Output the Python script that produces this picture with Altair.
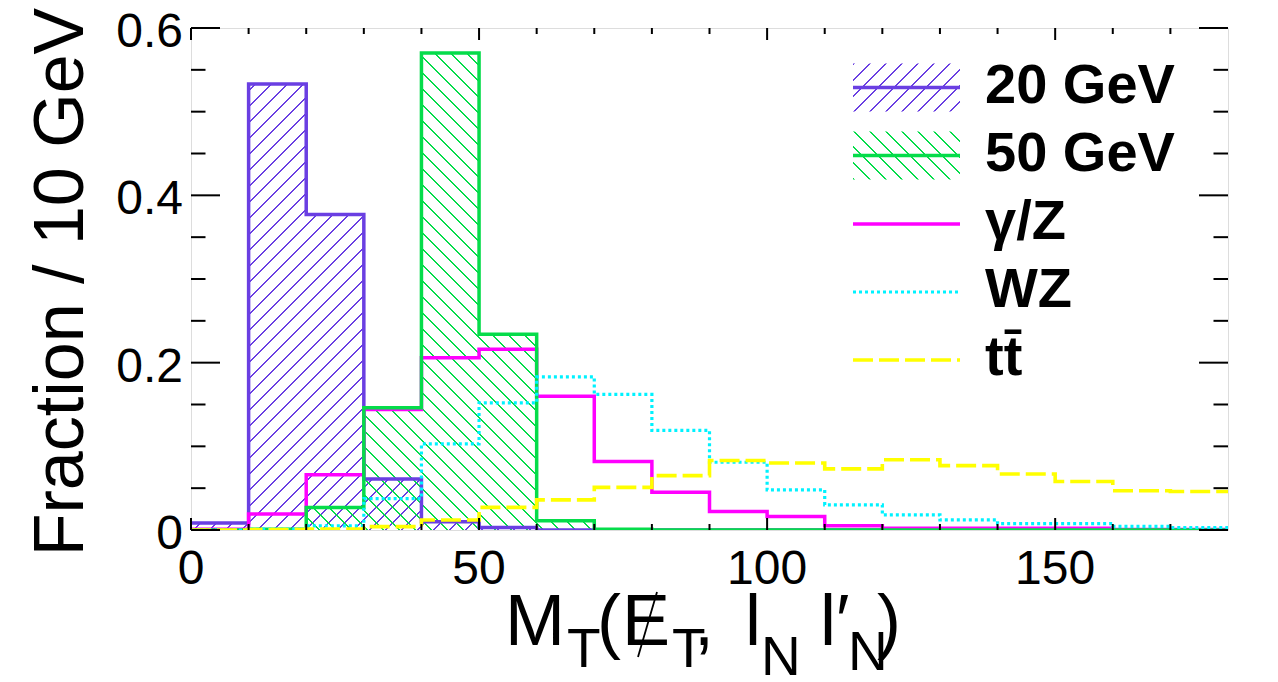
import math
import altair as alt
import pandas as pd

# ---------------- data ----------------
bin_edges = [0, 10, 20, 30, 40, 50, 60, 70, 80, 90, 100, 110, 120, 130, 140, 150, 160, 170, 180]
sig20 = [0.0085, 0.533, 0.377, 0.061, 0.010, 0.003, 0, 0, 0, 0, 0, 0, 0, 0, 0, 0, 0, 0]
sig50 = [0, 0.001, 0.027, 0.146, 0.570, 0.234, 0.011, 0.001, 0, 0, 0, 0, 0, 0, 0, 0, 0, 0]
gamz = [0.001, 0.019, 0.066, 0.144, 0.206, 0.216, 0.160, 0.082, 0.045, 0.022, 0.016, 0.005,
        0.002, 0.002, 0.002, 0.002, 0.0005, 0.0005]
wz = [0, 0.001, 0.005, 0.0375, 0.103, 0.152, 0.183, 0.162, 0.119, 0.081, 0.048, 0.030,
      0.018, 0.012, 0.0076, 0.0076, 0.0044, 0.003]
ttbar = [0, 0.0005, 0.001, 0.004, 0.012, 0.027, 0.036, 0.051, 0.065, 0.083, 0.080, 0.073,
         0.084, 0.077, 0.067, 0.058, 0.047, 0.046]

legend_names = ["20 GeV", "50 GeV", "\u03b3/Z", "WZ", "tt\u0304"]
x_tick_values = [0, 50, 100, 150]
x_tick_text = ["0", "50", "100", "150"]
x_minor_ticks = [10, 20, 30, 40, 60, 70, 80, 90, 110, 120, 130, 140, 160, 170]
y_tick_values = [0, 0.2, 0.4, 0.6]
y_tick_text = ["0", "0.2", "0.4", "0.6"]
y_minor_ticks = [0.05, 0.1, 0.15, 0.25, 0.3, 0.35, 0.45, 0.5, 0.55]
y_title = "Fraction / 10 GeV"

# ---------------- styles / layout ----------------
W, H = 1037, 502
XMAX, YMAX = 180, 0.6
PXY = H / YMAX
FONT = "Liberation Sans"
PURPLE = "#6a3fe2"
GREEN = "#05dc4a"
MAGENTA = "#ff00ff"
CYAN = "#00f2ff"
YELLOW = "#ffff00"

xs = alt.Scale(domain=[0, XMAX], nice=False, zero=False)
ys = alt.Scale(domain=[0, YMAX], nice=False, zero=True)


def hatch(color, w, h, kind, period=11.3, lw=1.4):
    """Linear gradient that paints 45-degree hatch lines over a box w x h (px)."""
    D = (w + h) / math.sqrt(2)
    a = (w + h) / (w * w + h * h)
    if kind == "/":
        x1, y1, x2, y2 = 0, 0, a * w, a * h
    else:
        x1, y1, x2, y2 = 0, 1, a * w, 1 - a * h
    clear = "rgba(255,255,255,0)"
    stops = []
    k = 0
    while k * period < D:
        s = round(k * period / D, 5)
        e = round(min((k * period + lw) / D, 1), 5)
        n = round(min((k + 1) * period / D, 1), 5)
        stops += [alt.GradientStop(offset=s, color=color),
                  alt.GradientStop(offset=e, color=color),
                  alt.GradientStop(offset=e, color=clear),
                  alt.GradientStop(offset=n, color=clear)]
        k += 1
    return alt.LinearGradient(gradient="linear", stops=stops,
                              x1=round(x1, 5), y1=round(y1, 5), x2=round(x2, 5), y2=round(y2, 5))


def step_df(vals):
    return pd.DataFrame({"x": bin_edges, "v": list(vals) + [vals[-1]]})


X = lambda f: alt.X(f, scale=xs, axis=None)
Y = lambda f: alt.Y(f, scale=ys, axis=None)

layers = []

# hatched signal histograms
layers.append(alt.Chart(step_df(sig20)).mark_area(
    interpolate="step-after", clip=True,
    fill=hatch(PURPLE, W, max(sig20) * PXY, "/")).encode(x=X("x:Q"), y=Y("v:Q")))
layers.append(alt.Chart(step_df(sig50)).mark_area(
    interpolate="step-after", clip=True,
    fill=hatch(GREEN, W, max(sig50) * PXY, "\\")).encode(x=X("x:Q"), y=Y("v:Q")))


def step_line(vals, color, width, dash=None):
    kw = dict(interpolate="step-after", clip=True, color=color, strokeWidth=width)
    if dash:
        kw["strokeDash"] = dash
    return alt.Chart(step_df(vals)).mark_line(**kw).encode(x=X("x:Q"), y=Y("v:Q"))


layers += [
    step_line(sig20, PURPLE, 3.5),
    step_line(gamz, MAGENTA, 3.5),
    step_line(sig50, GREEN, 3.5),
    step_line(wz, CYAN, 3.2, [3, 3]),
    step_line(ttbar, YELLOW, 3.6, [20, 6]),
]


# inward ticks (ROOT style) on all four sides
def yticks(vals, length):
    d = pd.DataFrame({"t": vals})
    return [alt.Chart(d).mark_rule(color="black", strokeWidth=2).encode(
                y=Y("t:Q"), x=alt.value(0), x2=alt.value(length)),
            alt.Chart(d).mark_rule(color="black", strokeWidth=2).encode(
                y=Y("t:Q"), x=alt.value(W - length), x2=alt.value(W))]


def xticks(vals, length):
    d = pd.DataFrame({"t": vals})
    return [alt.Chart(d).mark_rule(color="black", strokeWidth=2).encode(
                x=X("t:Q"), y=alt.value(H), y2=alt.value(H - length)),
            alt.Chart(d).mark_rule(color="black", strokeWidth=2).encode(
                x=X("t:Q"), y=alt.value(0), y2=alt.value(length))]


layers += yticks(y_tick_values, 29) + yticks(y_minor_ticks, 14.5)
layers += xticks(x_tick_values, 12) + xticks(x_minor_ticks, 6)

# tick labels
layers.append(alt.Chart(pd.DataFrame({"t": y_tick_values, "s": y_tick_text})).mark_text(
    font=FONT, fontSize=48, align="right", baseline="alphabetic", dy=19, color="black"
).encode(y=Y("t:Q"), x=alt.value(-8), text="s:N"))
layers.append(alt.Chart(pd.DataFrame({"t": x_tick_values, "s": x_tick_text})).mark_text(
    font=FONT, fontSize=48, align="center", baseline="alphabetic", color="black"
).encode(x=X("t:Q"), y=alt.value(H + 54), text="s:N"))

# ---------------- legend ----------------
leg_rows = [59.5, 127.5, 196, 264, 332]
LX1, LX2, LTX = 662, 769, 794
leg_styles = [
    dict(color=PURPLE, width=3.5, dash=None, hatch="/"),
    dict(color=GREEN, width=3.5, dash=None, hatch="\\"),
    dict(color=MAGENTA, width=3.5, dash=None, hatch=None),
    dict(color=CYAN, width=3.2, dash=[3, 3], hatch=None),
    dict(color=YELLOW, width=3.6, dash=[20, 6], hatch=None),
]
for name, ry, st in zip(legend_names, leg_rows, leg_styles):
    one = alt.Data(values=[{"label": name}])
    if st["hatch"]:
        layers.append(alt.Chart(one).mark_rect(
            fill=hatch(st["color"], LX2 - LX1, 48, st["hatch"])).encode(
            x=alt.value(LX1), x2=alt.value(LX2), y=alt.value(ry - 24), y2=alt.value(ry + 24)))
    kw = dict(color=st["color"], strokeWidth=st["width"])
    if st["dash"]:
        kw["strokeDash"] = st["dash"]
    layers.append(alt.Chart(one).mark_rule(**kw).encode(
        x=alt.value(LX1), x2=alt.value(LX2), y=alt.value(ry)))
    layers.append(alt.Chart(one).mark_text(
        font=FONT, fontSize=56, fontWeight="bold", align="left", baseline="middle",
        color="black").encode(text="label:N", x=alt.value(LTX), y=alt.value(ry - 2)))

# ---------------- axis titles ----------------
layers.append(alt.Chart(alt.Data(values=[{"t": y_title}])).mark_text(
    font=FONT, fontSize=70, angle=270, align="center", baseline="alphabetic",
    color="black").encode(text="t:N", x=alt.value(-108), y=alt.value(254)))

# x title pieces: (text, left x, baseline y, size)   (pixel layout relative to plot)
BIG, SUB = 72, 55
x_title_parts = [
    ("M", 314, 617, BIG),
    ("T", 376, 639, SUB),
    ("(", 406, 617, BIG),
    ("E", 431, 617, BIG),
    ("T", 481, 639, SUB),
    (",", 503, 617, BIG),
    ("l", 554, 617, BIG),
    ("N", 570, 647, SUB),
    ("l", 629, 617, BIG),
    ("\u2032", 645, 617, BIG),
    ("N", 657, 642, SUB),
    (")", 686, 617, BIG),
]
for txt, px, py, size in x_title_parts:
    layers.append(alt.Chart(alt.Data(values=[{"t": txt}])).mark_text(
        font=FONT, fontSize=size, align="left", baseline="alphabetic", color="black"
    ).encode(text="t:N", x=alt.value(px), y=alt.value(py)))
# slash through the E (missing-ET symbol)
layers.append(alt.Chart(alt.Data(values=[{"t": "slash"}])).mark_rule(
    color="black", strokeWidth=1.8).encode(
    x=alt.value(466), y=alt.value(564), x2=alt.value(447), y2=alt.value(629)))

chart = alt.layer(*layers).properties(
    width=W, height=H,
    autosize=alt.AutoSizeParams(type="none"),
    padding={"left": 183, "top": 20, "right": 40, "bottom": 150},
).configure_view(stroke="black", strokeWidth=2.2).configure(background="white")

chart.save("out.html", embed_options={"renderer": "svg", "actions": False})
